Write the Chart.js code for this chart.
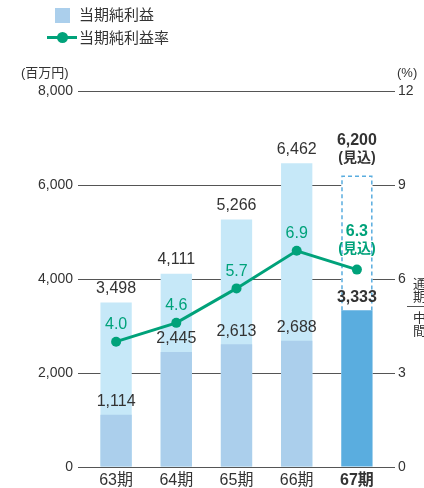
<!DOCTYPE html>
<html>
<head>
<meta charset="utf-8">
<script src="https://cdn.jsdelivr.net/npm/chart.js@4"></script>
<style>
  body { margin: 0; background: #fff; font-family: "Liberation Sans", "Noto Sans CJK JP", sans-serif; color: #333; }
  #wrap { position: relative; width: 424px; height: 488px; overflow: hidden; }
  #c { position: absolute; left: 0; top: 0; }
  .abs { position: absolute; white-space: nowrap; }
  .jp { font-family: "Liberation Sans", "Noto Sans CJK JP", sans-serif; }
</style>
</head>
<body>
<div id="wrap">
  <canvas id="c" width="424" height="488"></canvas>
  <!-- legend -->
  <div class="abs" style="left:55px;top:8px;width:15px;height:15px;background:#abcfec"></div>
  <div class="abs jp" style="left:79px;top:5px;font-size:15px;line-height:20px">当期純利益</div>
  <div class="abs" style="left:47px;top:36px;width:30px;height:3px;background:#00a27a"></div>
  <div class="abs" style="left:57px;top:32px;width:11px;height:11px;border-radius:50%;background:#00a27a"></div>
  <div class="abs jp" style="left:79px;top:28px;font-size:15px;line-height:20px">当期純利益率</div>
  <!-- axis units -->
  <div class="abs jp" style="left:21px;top:65px;font-size:13px;line-height:16px">(百万円)</div>
  <div class="abs" style="left:397px;top:65px;font-size:13px;line-height:16px">(%)</div>
  <!-- full-year / interim key -->
  <div class="abs jp" style="left:411px;top:277px;font-size:13px;line-height:14px;writing-mode:vertical-rl">通期</div>
  <div class="abs" style="left:407px;top:306px;width:20px;height:1px;background:#555"></div>
  <div class="abs jp" style="left:411px;top:311px;font-size:13px;line-height:14px;writing-mode:vertical-rl">中間</div>
</div>
<script>
// values
const periods = ['63期', '64期', '65期', '66期', '67期'];
const fullYear = [3498, 4111, 5266, 6462, 6200];   // 通期 (67期 = 見込)
const interim = [1114, 2445, 2613, 2688, 3333];    // 中間
const margin = [4.0, 4.6, 5.7, 6.9, 6.3];          // 当期純利益率 (%)
const leftTicks = [0, 2000, 4000, 6000, 8000];
const rightTicks = [0, 3, 6, 9, 12];

const green = '#00a27a';
const fmt = v => v.toLocaleString('en-US');

// dashed outline for the forecast bar (top + sides, down to the interim bar)
const dashedBox = {
  id: 'dashedBox',
  afterDatasetDraw(chart, args) {
    if (args.index !== 0) return;
    const el = args.meta.data[4];
    const low = chart.getDatasetMeta(1).data[4];
    const ctx = chart.ctx;
    const l = el.x - el.width / 2 + 0.75, r = el.x + el.width / 2 - 0.75;
    ctx.save();
    ctx.setLineDash([4, 3]);
    ctx.lineWidth = 1.5;
    ctx.strokeStyle = '#5aaddf';
    ctx.beginPath();
    ctx.moveTo(l, low.y);
    ctx.lineTo(l, el.y + 0.75);
    ctx.lineTo(r, el.y + 0.75);
    ctx.lineTo(r, low.y);
    ctx.stroke();
    ctx.restore();
  }
};

// value labels
const valueLabels = {
  id: 'valueLabels',
  afterDatasetsDraw(chart) {
    const ctx = chart.ctx;
    const fy = chart.getDatasetMeta(0).data;
    const it = chart.getDatasetMeta(1).data;
    const ln = chart.getDatasetMeta(2).data;
    ctx.save();
    ctx.textAlign = 'center';
    ctx.textBaseline = 'middle';
    periods.forEach((p, i) => {
      const last = i === periods.length - 1;
      ctx.fillStyle = '#333';
      if (last) {
        ctx.font = 'bold 16px "Liberation Sans", sans-serif';
        ctx.fillText(fmt(fullYear[i]), fy[i].x, fy[i].y - 35);
        ctx.font = 'bold 14px "Liberation Sans", "Noto Sans CJK JP", sans-serif';
        ctx.fillText('(見込)', fy[i].x, fy[i].y - 17);
        ctx.font = 'bold 16px "Liberation Sans", sans-serif';
        ctx.fillText(fmt(interim[i]), it[i].x, it[i].y - 13);
        ctx.fillStyle = green;
        ctx.fillText(margin[i].toFixed(1), ln[i].x, ln[i].y - 38);
        ctx.font = 'bold 14px "Liberation Sans", "Noto Sans CJK JP", sans-serif';
        ctx.fillText('(見込)', ln[i].x, ln[i].y - 20);
      } else {
        ctx.font = '16px "Liberation Sans", sans-serif';
        ctx.fillText(fmt(fullYear[i]), fy[i].x, fy[i].y - 14);
        ctx.fillText(fmt(interim[i]), it[i].x, it[i].y - 13);
        ctx.fillStyle = green;
        ctx.fillText(margin[i].toFixed(1), ln[i].x, ln[i].y - 17);
      }
    });
    ctx.restore();
  }
};

new Chart(document.getElementById('c'), {
  data: {
    labels: periods,
    datasets: [
      {
        type: 'bar',
        data: fullYear,
        backgroundColor: ['#c6e8f8', '#c6e8f8', '#c6e8f8', '#c6e8f8', '#ffffff'],
        grouped: false,
        order: 3,
        yAxisID: 'y'
      },
      {
        type: 'bar',
        data: interim,
        backgroundColor: ['#abcfec', '#abcfec', '#abcfec', '#abcfec', '#5aaddf'],
        grouped: false,
        order: 2,
        yAxisID: 'y'
      },
      {
        type: 'line',
        data: margin,
        borderColor: green,
        backgroundColor: green,
        borderWidth: 3,
        pointRadius: 5,
        pointBorderWidth: 0,
        order: 1,
        yAxisID: 'y1'
      }
    ]
  },
  options: {
    responsive: false,
    animation: false,
    events: [],
    layout: { padding: { top: 91, left: 0, right: 0, bottom: 0 } },
    datasets: { bar: { categoryPercentage: 1, barPercentage: 0.52 } },
    plugins: { legend: { display: false }, tooltip: { enabled: false } },
    scales: {
      x: {
        grid: { display: false, drawTicks: false },
        border: { display: false },
        ticks: {
          padding: 4,
          color: '#333',
          font: ctx => ctx.index === 4
            ? { size: 16, weight: 'bold', family: '"Liberation Sans", "Noto Sans CJK JP", sans-serif' }
            : { size: 16, family: '"Liberation Sans", "Noto Sans CJK JP", sans-serif' }
        },
        afterFit: s => { s.height = 21; }
      },
      y: {
        position: 'left',
        min: 0, max: 8000,
        afterBuildTicks: s => { s.ticks = leftTicks.map(v => ({ value: v })); },
        grid: { color: '#555', lineWidth: 1, tickLength: 8 },
        border: { display: false },
        ticks: {
          padding: 5,
          color: '#333',
          font: { size: 14, family: '"Liberation Sans", sans-serif' },
          callback: v => fmt(v)
        },
        afterFit: s => { s.width = 86; }
      },
      y1: {
        position: 'right',
        min: 0, max: 12,
        afterBuildTicks: s => { s.ticks = rightTicks.map(v => ({ value: v })); },
        grid: { drawOnChartArea: false, color: '#555', lineWidth: 1, tickLength: 8 },
        border: { display: false },
        ticks: {
          padding: 3,
          color: '#333',
          font: { size: 14, family: '"Liberation Sans", sans-serif' }
        },
        afterFit: s => { s.width = 37; }
      }
    }
  },
  plugins: [dashedBox, valueLabels]
});
</script>
</body>
</html>
